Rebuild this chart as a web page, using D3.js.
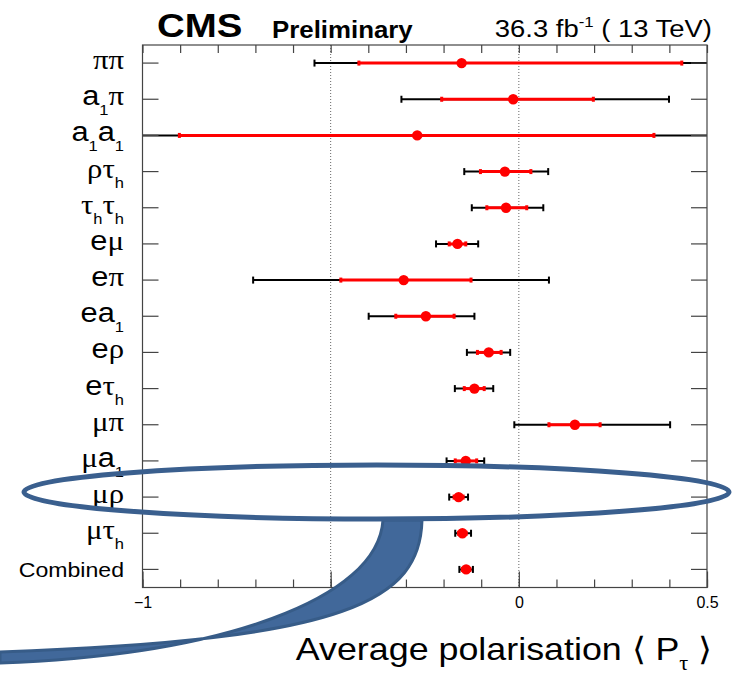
<!DOCTYPE html>
<html lang="en">
<head>
    <meta charset="UTF-8">
    <title>Average tau polarisation</title>
    <script src="https://d3js.org/d3.v7.min.js"></script>
    <style>
        body { margin: 0; background: #fff; }
        text { font-family: "Liberation Sans", Arial, Helvetica, sans-serif; }
    </style>
</head>
<body>
<div id="chart"></div>
<script>
    // channel labels, "_" marks a one-character subscript
    let categories = ["ππ", "a_1π", "a_1a_1", "ρτ_h", "τ_hτ_h", "eμ", "eπ", "ea_1", "eρ", "eτ_h",
        "μπ", "μa_1", "μρ", "μτ_h", "Combined"];
    // central values
    let central = [-0.152, -0.015, -0.270, -0.037, -0.034, -0.163, -0.306, -0.247, -0.080, -0.118,
        0.149, -0.141, -0.160, -0.150, -0.140];
    // inner (red) interval
    let innerLo = [-0.425, -0.205, -0.902, -0.102, -0.085, -0.185, -0.473, -0.327, -0.110, -0.145,
        0.080, -0.169, -0.172, -0.160, -0.150];
    let innerHi = [0.433, 0.198, 0.359, 0.032, 0.021, -0.141, -0.127, -0.172, -0.047, -0.092,
        0.216, -0.112, -0.148, -0.140, -0.130];
    // outer (black) interval
    let outerLo = [-0.543, -0.312, -1.080, -0.145, -0.125, -0.220, -0.706, -0.399, -0.138, -0.170,
        -0.012, -0.192, -0.185, -0.169, -0.158];
    let outerHi = [0.620, 0.399, 0.620, 0.078, 0.065, -0.108, 0.080, -0.118, -0.023, -0.068,
        0.402, -0.092, -0.135, -0.127, -0.122];
    let majorTicks = [-1, -0.5, 0, 0.5];
    let minorTicks = d3.range(-10, 6).map(d => d / 10);
    let gridLines = [-0.5, 0];

    let W = 732, H = 675;
    let pLeft = 142.5, pRight = 707, pTop = 45, pBottom = 587.5;
    let sx = 1.1; // the reference text is a little wide

    let svg = d3.select("#chart").append("svg")
        .attr("width", W).attr("height", H)
        .style("background", "#fff");

    let x = d3.scaleLinear().domain([-1, 0.5]).range([pLeft, pRight]);
    let band = d3.scaleBand().domain(categories).range([pTop, pBottom]);
    let yc = d => band(d) + band.bandwidth() / 2;

    svg.append("clipPath").attr("id", "frame")
        .append("rect")
        .attr("x", pLeft).attr("y", pTop)
        .attr("width", pRight - pLeft).attr("height", pBottom - pTop);

    // dotted reference lines
    svg.append("g").selectAll("line")
        .data(gridLines).enter().append("line")
        .attr("x1", d => x(d)).attr("x2", d => x(d))
        .attr("y1", pTop).attr("y2", pBottom)
        .attr("stroke", "#666").attr("stroke-width", 1)
        .attr("stroke-dasharray", "1,2");

    let rows = categories.map((c, i) => ({
        cat: c, v: central[i], lo: innerLo[i], hi: innerHi[i], olo: outerLo[i], ohi: outerHi[i]
    }));

    let marks = svg.append("g").attr("clip-path", "url(#frame)");

    // black outer bars
    marks.selectAll(".outer").data(rows).enter().append("line")
        .attr("class", "outer")
        .attr("x1", d => x(d.olo)).attr("x2", d => x(d.ohi))
        .attr("y1", d => yc(d.cat)).attr("y2", d => yc(d.cat))
        .attr("stroke", "#000").attr("stroke-width", 2);
    let ocaps = [];
    rows.forEach(d => { ocaps.push({cat: d.cat, v: d.olo}); ocaps.push({cat: d.cat, v: d.ohi}); });
    marks.selectAll(".ocap").data(ocaps).enter().append("rect")
        .attr("class", "ocap")
        .attr("x", d => x(d.v) - 1).attr("y", d => yc(d.cat) - 3.5)
        .attr("width", 2).attr("height", 7)
        .attr("fill", "#000");

    // red inner bars
    marks.selectAll(".inner").data(rows).enter().append("line")
        .attr("class", "inner")
        .attr("x1", d => x(d.lo)).attr("x2", d => x(d.hi))
        .attr("y1", d => yc(d.cat)).attr("y2", d => yc(d.cat))
        .attr("stroke", "#ff0000").attr("stroke-width", 3);
    let icaps = [];
    rows.forEach(d => { icaps.push({cat: d.cat, v: d.lo}); icaps.push({cat: d.cat, v: d.hi}); });
    marks.selectAll(".icap").data(icaps).enter().append("rect")
        .attr("class", "icap")
        .attr("x", d => x(d.v) - 1.5).attr("y", d => yc(d.cat) - 2.5)
        .attr("width", 3).attr("height", 5)
        .attr("fill", "#ff0000");

    marks.selectAll(".dot").data(rows).enter().append("circle")
        .attr("class", "dot")
        .attr("cx", d => x(d.v)).attr("cy", d => yc(d.cat))
        .attr("r", 5.2)
        .attr("fill", "#ff0000");

    // frame and ticks
    let axisColor = "#444";
    function styleAxis(g) {
        g.select(".domain").remove();
        g.selectAll(".tick line").attr("stroke", axisColor).attr("stroke-width", 1.2);
    }
    svg.append("g").attr("transform", "translate(0," + pBottom + ")")
        .call(d3.axisBottom(x).tickValues(minorTicks).tickSize(-8).tickFormat(""))
        .call(styleAxis);
    svg.append("g").attr("transform", "translate(0," + pBottom + ")")
        .call(d3.axisBottom(x).tickValues(majorTicks).tickSize(-16).tickPadding(9)
            .tickFormat(d3.format("")))
        .call(styleAxis)
        .call(g => g.selectAll(".tick text")
            .attr("font-size", 16).attr("fill", "#000")
            .attr("font-family", "Liberation Sans, Arial, sans-serif"));
    svg.append("g").attr("transform", "translate(0," + pTop + ")")
        .call(d3.axisTop(x).tickValues(minorTicks).tickSize(-8).tickFormat(""))
        .call(styleAxis);
    svg.append("g").attr("transform", "translate(" + pLeft + ",0)")
        .call(d3.axisLeft(band).tickSize(-16).tickFormat(""))
        .call(styleAxis);
    svg.append("g").attr("transform", "translate(" + pRight + ",0)")
        .call(d3.axisRight(band).tickSize(-16).tickFormat(""))
        .call(styleAxis);
    svg.append("rect")
        .attr("x", pLeft).attr("y", pTop)
        .attr("width", pRight - pLeft).attr("height", pBottom - pTop)
        .attr("fill", "none").attr("stroke", axisColor).attr("stroke-width", 1.2);

    // text with one-character subscripts, greek letters in a serif face
    let greek = /[α-ωΑ-Ω]/;
    function richLabel(g, str, size, subSize, subDy) {
        let t = g.append("text").attr("font-size", size).attr("fill", "#000");
        let i = 0, shifted = false;
        while (i < str.length) {
            let ch = str[i];
            if (ch === "_") {
                t.append("tspan").attr("font-size", subSize).attr("dy", subDy).text(str[i + 1]);
                shifted = true;
                i += 2;
                continue;
            }
            let s = t.append("tspan").text(ch);
            if (greek.test(ch)) s.attr("font-family", "Liberation Serif, Times New Roman, serif");
            if (shifted) { s.attr("dy", -subDy); shifted = false; }
            i++;
        }
        return t;
    }

    categories.forEach(c => {
        let g = svg.append("g")
            .attr("transform", "translate(124," + (yc(c) + 6) + ") scale(" + sx + ",1)");
        if (c === "Combined") {
            g.append("text").attr("font-size", 21).attr("text-anchor", "end")
                .attr("dy", 2).text(c);
        } else {
            richLabel(g, c, 28, 15, 10).attr("text-anchor", "end");
        }
    });

    // header
    svg.append("text").attr("transform", "translate(157,37) scale(1.13,1)")
        .attr("font-size", 34).attr("font-weight", "bold").text("CMS");
    svg.append("text").attr("transform", "translate(272,38) scale(1.1,1)")
        .attr("font-size", 23.5).attr("font-weight", "bold").text("Preliminary");
    let lumi = svg.append("text").attr("transform", "translate(712,37) scale(1.12,1)")
        .attr("font-size", 24.5).attr("text-anchor", "end");
    lumi.append("tspan").text("36.3 fb");
    lumi.append("tspan").attr("font-size", 15).attr("dy", -10).text("-1");
    lumi.append("tspan").attr("dy", 10).text(" ( 13 TeV)");

    // x title
    let xt = svg.append("text").attr("transform", "translate(712,660) scale(1.12,1)")
        .attr("font-size", 32).attr("text-anchor", "end");
    xt.append("tspan").text("Average polarisation ⟨ P");
    xt.append("tspan").attr("font-size", 20).attr("dy", 10)
        .attr("font-family", "Liberation Serif, Times New Roman, serif").text("τ");
    xt.append("tspan").attr("dy", -10).text(" ⟩");

    // highlight: callout tail under the ellipse
    svg.append("path")
        .attr("d", "M383,520 L422,520 C420,600 350,640 0,652 L0,663 C220,655 378,600 383,520 Z")
        .attr("fill", "#41689a").attr("stroke", "#375c88").attr("stroke-width", 3);
    svg.append("ellipse")
        .attr("cx", 376.5).attr("cy", 492).attr("rx", 352.5).attr("ry", 27)
        .attr("fill", "none").attr("stroke", "#3a5f8e").attr("stroke-width", 5);
</script>
</body>
</html>
